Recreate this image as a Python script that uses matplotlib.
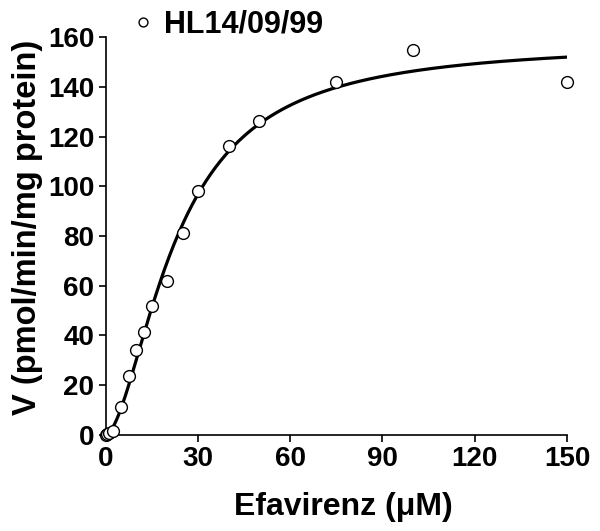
"""Efavirenz metabolism rate vs concentration with Hill fit."""

import matplotlib.pyplot as plt
import numpy as np

plt.rcParams["font.family"] = ["Liberation Sans", "DejaVu Sans"]
plt.rcParams["font.weight"] = "bold"

conc = np.array([0, 0.5, 1, 2.5, 5, 7.5, 10, 12.5, 15, 20, 25, 30, 40, 50, 75, 100, 150])
rate = np.array([0, 0.3, 0.7, 1.5, 11.4, 23.5, 34.2, 41.4, 52, 62, 81.2, 98.3, 116.4,
                 126.4, 141.8, 154.9, 141.8])
series_label = "HL14/09/99"
x_ticks = [0, 30, 60, 90, 120, 150]
y_ticks = [0, 20, 40, 60, 80, 100, 120, 140, 160]


def fit_hill(x, y):
    """Crude least-squares Hill fit: grid over S50 and n, Vmax solved linearly."""
    best = None
    for n in np.linspace(1.0, 3.0, 81):
        for k in np.linspace(5, 60, 221):
            f = x**n / (k**n + x**n)
            vmax = np.dot(f, y) / np.dot(f, f)
            err = np.sum((y - vmax * f) ** 2)
            if best is None or err < best[0]:
                best = (err, vmax, k, n)
    return best[1:]


vmax, s50, hill = fit_hill(conc, rate)
xs = np.linspace(0, 150, 400)
ys = vmax * xs**hill / (s50**hill + xs**hill)

fig = plt.figure(figsize=(6.0, 5.31), dpi=100)
ax = fig.add_axes([0.176, 0.181, 0.769, 0.749])

ax.plot(xs, ys, "k-", linewidth=2.3, zorder=2)
ax.plot(conc, rate, "o", markersize=8.5, markerfacecolor="white",
        markeredgecolor="black", markeredgewidth=1.0, clip_on=False, zorder=3,
        label=series_label)

ax.set_xlim(0, 150)
ax.set_ylim(0, 160)
ax.set_xticks(x_ticks)
ax.set_yticks(y_ticks)
ax.spines["top"].set_visible(False)
ax.spines["right"].set_visible(False)
ax.spines["left"].set_linewidth(1.2)
ax.spines["bottom"].set_linewidth(1.2)
ax.tick_params(direction="out", length=5, width=1.2, labelsize=20, pad=3)
for lab in ax.get_xticklabels() + ax.get_yticklabels():
    lab.set_fontweight("bold")

ax.set_xlabel("Efavirenz (\u03bcM)", fontsize=23, fontweight="bold")
ax.set_ylabel("V (pmol/min/mg protein)", fontsize=23.5, fontweight="bold")
ax.xaxis.set_label_coords(0.515, -0.143)
ax.yaxis.set_label_coords(-0.136, 0.522)

ax.legend(loc="center left", bbox_to_anchor=(0.223, 0.953), bbox_transform=fig.transFigure,
          frameon=False, handlelength=0.6, handletextpad=0.4, borderpad=0,
          borderaxespad=0, markerscale=0.75, prop={"size": 22, "weight": "bold"})

fig.savefig("out.png", dpi=100)
